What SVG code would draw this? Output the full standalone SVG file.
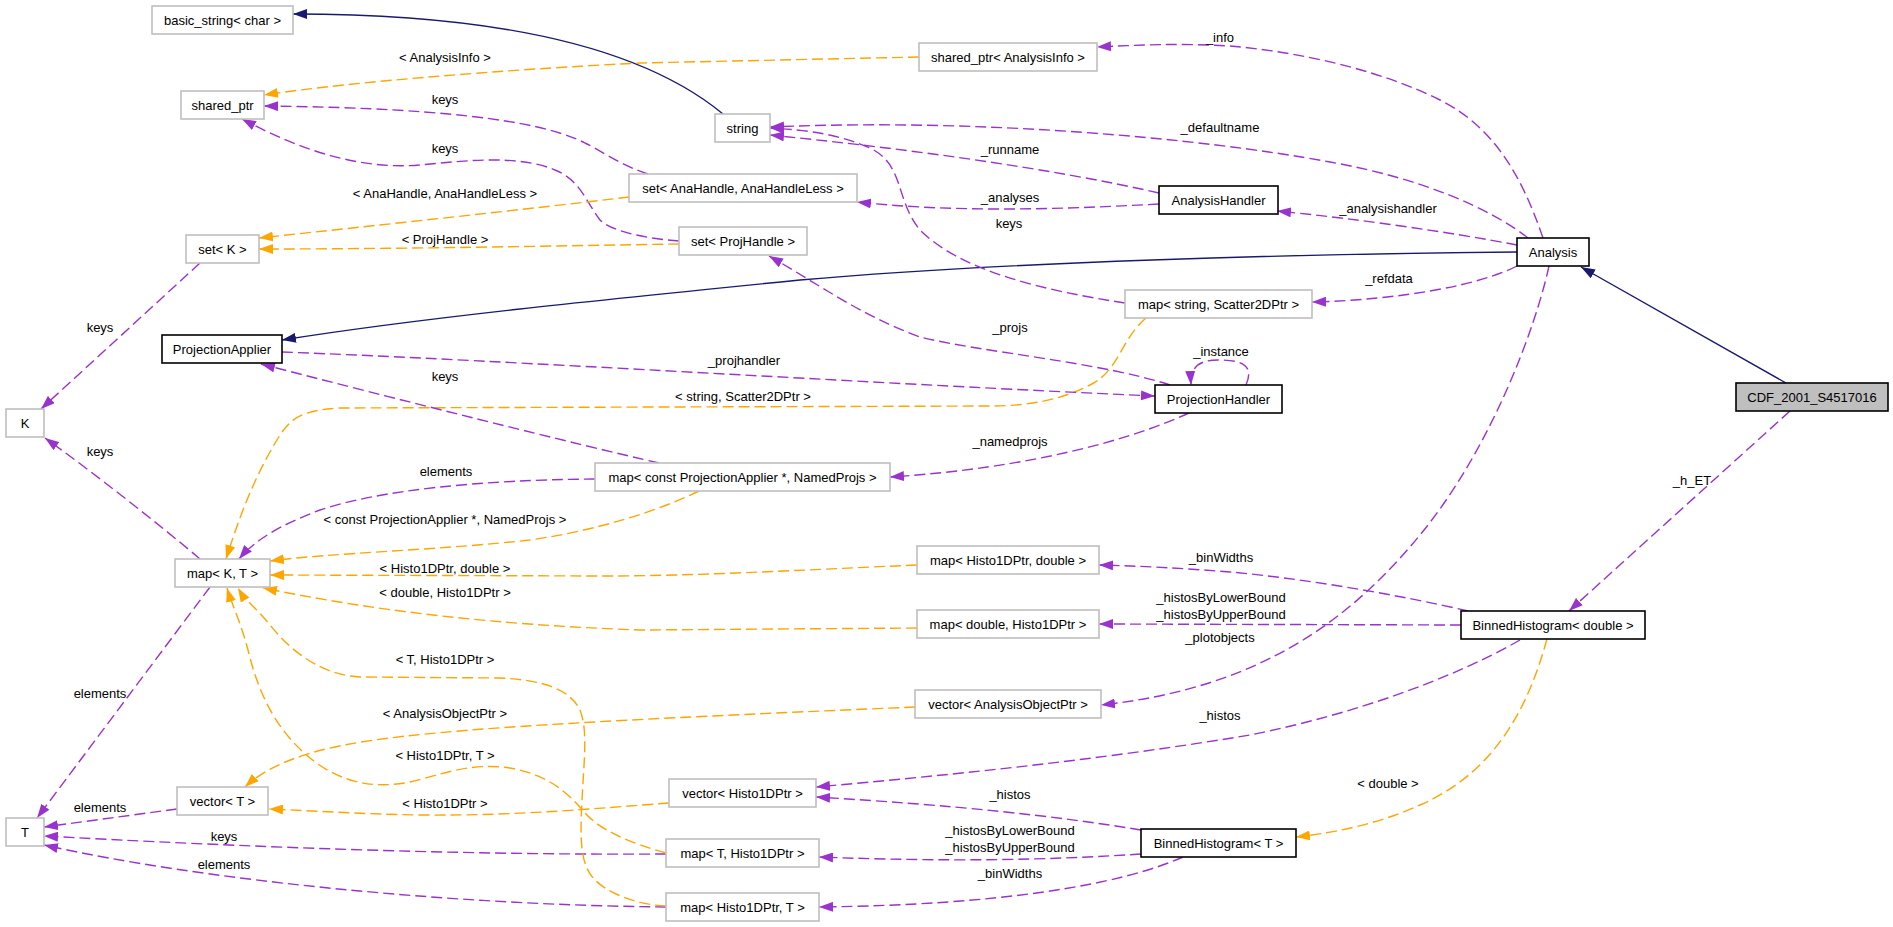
<svg xmlns="http://www.w3.org/2000/svg" width="1893" height="927" viewBox="0 0 1893 927">
<style>
.n rect{fill:#fff;stroke:#bfbfbf;stroke-width:1.6}
.n.d rect{stroke:#000}
.n.g rect{fill:#bfbfbf;stroke:#000}
text{font-family:"Liberation Sans",Arial,sans-serif;font-size:13px;fill:#000;text-anchor:middle}
#edges path{fill:none;stroke-width:1.4}
#edges .p{stroke:#9a32cd;stroke-dasharray:11,5;marker-end:url(#ap)}
#edges .o{stroke:#ffa500;stroke-dasharray:11,5;marker-end:url(#ao)}
#edges .v{stroke:#191970;marker-end:url(#av)}
</style>
<defs>
<marker id="ap" viewBox="0 0 14 10" refX="14" refY="5" markerWidth="14" markerHeight="10" markerUnits="userSpaceOnUse" orient="auto"><path d="M0,0L14,5L0,10z" fill="#9a32cd" stroke="none"/></marker>
<marker id="ao" viewBox="0 0 14 10" refX="14" refY="5" markerWidth="14" markerHeight="10" markerUnits="userSpaceOnUse" orient="auto"><path d="M0,0L14,5L0,10z" fill="#ffa500" stroke="none"/></marker>
<marker id="av" viewBox="0 0 14 10" refX="14" refY="5" markerWidth="14" markerHeight="10" markerUnits="userSpaceOnUse" orient="auto"><path d="M0,0L14,5L0,10z" fill="#191970" stroke="none"/></marker>
</defs>
<rect width="1893" height="927" fill="#fff"/>
<g id="edges">
<path class="v" d="M723,114 C660,62 540,14 293,14"/>
<path class="o" d="M919,57 L640,63 C500,70 350,82 264,95"/>
<path class="p" d="M648,174 C620,165 600,150 585,143 C550,125 470,108 264,106"/>
<path class="p" d="M679,241 C640,238 610,230 600,220 C585,200 580,180 555,170 C520,155 470,160 420,165 C360,170 300,150 242,119"/>
<path class="o" d="M629,197 C520,210 380,225 259,238"/>
<path class="o" d="M679,244 C550,246 400,249 259,249"/>
<path class="p" d="M1543,238 C1520,170 1490,125 1440,100 C1380,70 1300,52 1230,46 C1180,43 1140,45 1097,47"/>
<path class="p" d="M1528,238 C1490,208 1420,178 1330,162 C1200,138 980,118 770,127"/>
<path class="p" d="M1159,193 C1050,168 900,148 770,135"/>
<path class="p" d="M1159,204 C1050,210 950,212 857,202"/>
<path class="p" d="M1517,245 C1450,232 1350,218 1277,211"/>
<path class="v" d="M1517,252 C1300,254 1000,262 800,280 C600,300 420,318 282,340"/>
<path class="p" d="M1517,266 C1480,285 1400,300 1312,302"/>
<path class="p" d="M1549,266 C1535,330 1490,450 1420,535 C1350,620 1260,688 1101,705"/>
<path class="p" d="M1125,303 C1040,290 960,270 920,230 C895,200 905,165 870,148 C840,135 810,130 770,128"/>
<path class="o" d="M1146,318 C1120,340 1120,370 1090,385 C1060,400 1030,406 990,406 L340,408 C300,410 290,420 280,435 C255,475 240,515 226,559"/>
<path class="p" d="M282,352 C500,360 900,385 1155,396"/>
<path class="p" d="M1170,385 C1100,362 980,352 920,337 C860,315 820,285 769,256"/>
<path class="p" d="M1246,385 C1256,362 1236,360 1218,360 C1198,360 1190,368 1191,385"/>
<path class="p" d="M1189,413 C1130,440 1030,468 890,477"/>
<path class="p" d="M659,463 C580,445 400,400 261,364"/>
<path class="o" d="M699,491 C660,510 600,530 530,540 C440,550 330,553 270,561"/>
<path class="p" d="M595,479 C480,480 380,490 320,510 C280,525 255,540 239,559"/>
<path class="p" d="M200,559 C160,525 90,470 45,438"/>
<path class="p" d="M200,263 L41,409"/>
<path class="p" d="M210,587 L37,818"/>
<path class="p" d="M177,809 L44,827"/>
<path class="p" d="M666,854 C500,855 300,850 44,836"/>
<path class="p" d="M666,907 C450,905 200,880 44,845"/>
<path class="o" d="M669,803 C600,808 520,816 420,815 C360,814 320,811 269,809"/>
<path class="o" d="M915,707 C800,712 600,720 470,730 C380,738 290,745 245,787"/>
<path class="o" d="M666,906 C640,905 610,895 595,880 C580,865 580,840 582,800 C584,760 588,730 580,710 C570,690 545,680 500,678 L360,677 C320,675 290,650 270,625 C258,610 245,600 238,588"/>
<path class="o" d="M666,853 C630,843 600,830 585,813 C570,795 550,775 510,768 C470,762 440,775 410,782 C370,790 340,780 315,762 C280,735 260,700 248,650 C240,620 232,605 227,588"/>
<path class="p" d="M1141,830 C1050,815 950,805 816,797"/>
<path class="p" d="M1520,640 C1450,680 1350,715 1250,735 C1100,760 950,775 816,787"/>
<path class="p" d="M1141,854 C1050,860 950,862 819,857"/>
<path class="p" d="M1183,857 C1120,885 1000,905 819,907"/>
<path class="p" d="M1468,611 C1400,595 1300,578 1230,572 C1180,568 1140,566 1099,565"/>
<path class="p" d="M1461,625 L1099,624"/>
<path class="p" d="M1790,411 L1569,611"/>
<path class="v" d="M1786,383 L1581,267"/>
<path class="o" d="M1547,639 C1530,700 1500,770 1420,805 C1380,823 1340,832 1296,837"/>
<path class="o" d="M917,565 C800,570 700,576 600,576 L270,575"/>
<path class="o" d="M917,628 L640,630 C500,625 380,612 263,588"/>
<g id="edge-labels">
<text x="445" y="62">&lt; AnalysisInfo &gt;</text>
<text x="445" y="104">keys</text>
<text x="445" y="153">keys</text>
<text x="445" y="198">&lt; AnaHandle, AnaHandleLess &gt;</text>
<text x="445" y="244">&lt; ProjHandle &gt;</text>
<text x="1220" y="42">_info</text>
<text x="1220" y="132">_defaultname</text>
<text x="1010" y="154">_runname</text>
<text x="1010" y="202">_analyses</text>
<text x="1009" y="228">keys</text>
<text x="1388" y="213">_analysishandler</text>
<text x="1389" y="283">_refdata</text>
<text x="100" y="332">keys</text>
<text x="445" y="381">keys</text>
<text x="100" y="456">keys</text>
<text x="446" y="476">elements</text>
<text x="445" y="524">&lt; const ProjectionApplier *, NamedProjs &gt;</text>
<text x="445" y="573">&lt; Histo1DPtr, double &gt;</text>
<text x="445" y="597">&lt; double, Histo1DPtr &gt;</text>
<text x="1010" y="332">_projs</text>
<text x="1221" y="356">_instance</text>
<text x="744" y="365">_projhandler</text>
<text x="743" y="401">&lt; string, Scatter2DPtr &gt;</text>
<text x="1010" y="446">_namedprojs</text>
<text x="1221" y="562">_binWidths</text>
<text x="1221" y="602">_histosByLowerBound</text>
<text x="1221" y="619">_histosByUpperBound</text>
<text x="1220" y="642">_plotobjects</text>
<text x="1220" y="720">_histos</text>
<text x="1692" y="485">_h_ET</text>
<text x="100" y="698">elements</text>
<text x="445" y="664">&lt; T, Histo1DPtr &gt;</text>
<text x="445" y="718">&lt; AnalysisObjectPtr &gt;</text>
<text x="445" y="760">&lt; Histo1DPtr, T &gt;</text>
<text x="100" y="812">elements</text>
<text x="445" y="808">&lt; Histo1DPtr &gt;</text>
<text x="224" y="841">keys</text>
<text x="224" y="869">elements</text>
<text x="1010" y="799">_histos</text>
<text x="1010" y="835">_histosByLowerBound</text>
<text x="1010" y="852">_histosByUpperBound</text>
<text x="1010" y="878">_binWidths</text>
<text x="1388" y="788">&lt; double &gt;</text>
</g>
</g>
<g id="n_basic_string" class="n"><rect x="152" y="6" width="141" height="28"/><text x="222.5" y="24.5">basic_string&lt; char &gt;</text></g>
<g id="n_shared_ptr" class="n"><rect x="181" y="91" width="83" height="28"/><text x="222.5" y="109.5">shared_ptr</text></g>
<g id="n_set_K" class="n"><rect x="186" y="235" width="73" height="28"/><text x="222.5" y="253.5">set&lt; K &gt;</text></g>
<g id="n_K" class="n"><rect x="6" y="409" width="38" height="28"/><text x="25" y="427.5">K</text></g>
<g id="n_ProjectionApplier" class="n d"><rect x="162" y="335" width="120" height="28"/><text x="222" y="353.5">ProjectionApplier</text></g>
<g id="n_map_K_T" class="n"><rect x="175" y="559" width="95" height="28"/><text x="222.5" y="577.5">map&lt; K, T &gt;</text></g>
<g id="n_T" class="n"><rect x="6" y="818" width="38" height="28"/><text x="25" y="836.5">T</text></g>
<g id="n_vector_T" class="n"><rect x="177" y="787" width="91" height="28"/><text x="222.5" y="805.5">vector&lt; T &gt;</text></g>
<g id="n_shared_ptr_AnalysisInfo" class="n"><rect x="919" y="43" width="178" height="28"/><text x="1008" y="61.5">shared_ptr&lt; AnalysisInfo &gt;</text></g>
<g id="n_string" class="n"><rect x="715" y="114" width="55" height="28"/><text x="742.5" y="132.5">string</text></g>
<g id="n_set_AnaHandle" class="n"><rect x="629" y="174" width="228" height="28"/><text x="743" y="192.5">set&lt; AnaHandle, AnaHandleLess &gt;</text></g>
<g id="n_set_ProjHandle" class="n"><rect x="679" y="227" width="128" height="28"/><text x="743" y="245.5">set&lt; ProjHandle &gt;</text></g>
<g id="n_AnalysisHandler" class="n d"><rect x="1159" y="186" width="119" height="28"/><text x="1218.5" y="204.5">AnalysisHandler</text></g>
<g id="n_Analysis" class="n d"><rect x="1517" y="238" width="72" height="28"/><text x="1553" y="256.5">Analysis</text></g>
<g id="n_map_string_Scatter2DPtr" class="n"><rect x="1125" y="290" width="187" height="28"/><text x="1218.5" y="308.5">map&lt; string, Scatter2DPtr &gt;</text></g>
<g id="n_ProjectionHandler" class="n d"><rect x="1155" y="385" width="127" height="28"/><text x="1218.5" y="403.5">ProjectionHandler</text></g>
<g id="n_map_const_PA" class="n"><rect x="595" y="463" width="295" height="28"/><text x="742.5" y="481.5">map&lt; const ProjectionApplier *, NamedProjs &gt;</text></g>
<g id="n_map_Histo1DPtr_double" class="n"><rect x="917" y="546" width="182" height="28"/><text x="1008" y="564.5">map&lt; Histo1DPtr, double &gt;</text></g>
<g id="n_map_double_Histo1DPtr" class="n"><rect x="917" y="610" width="182" height="28"/><text x="1008" y="628.5">map&lt; double, Histo1DPtr &gt;</text></g>
<g id="n_vector_AnalysisObjectPtr" class="n"><rect x="915" y="690" width="186" height="28"/><text x="1008" y="708.5">vector&lt; AnalysisObjectPtr &gt;</text></g>
<g id="n_vector_Histo1DPtr" class="n"><rect x="669" y="779" width="147" height="28"/><text x="742.5" y="797.5">vector&lt; Histo1DPtr &gt;</text></g>
<g id="n_map_T_Histo1DPtr" class="n"><rect x="666" y="839" width="153" height="28"/><text x="742.5" y="857.5">map&lt; T, Histo1DPtr &gt;</text></g>
<g id="n_map_Histo1DPtr_T" class="n"><rect x="666" y="893" width="153" height="28"/><text x="742.5" y="911.5">map&lt; Histo1DPtr, T &gt;</text></g>
<g id="n_BinnedHistogram_T" class="n d"><rect x="1141" y="829" width="155" height="28"/><text x="1218.5" y="847.5">BinnedHistogram&lt; T &gt;</text></g>
<g id="n_BinnedHistogram_double" class="n d"><rect x="1461" y="611" width="184" height="28"/><text x="1553" y="629.5">BinnedHistogram&lt; double &gt;</text></g>
<g id="n_CDF_2001_S4517016" class="n g"><rect x="1736" y="383" width="152" height="28"/><text x="1812" y="401.5">CDF_2001_S4517016</text></g>
</svg>
